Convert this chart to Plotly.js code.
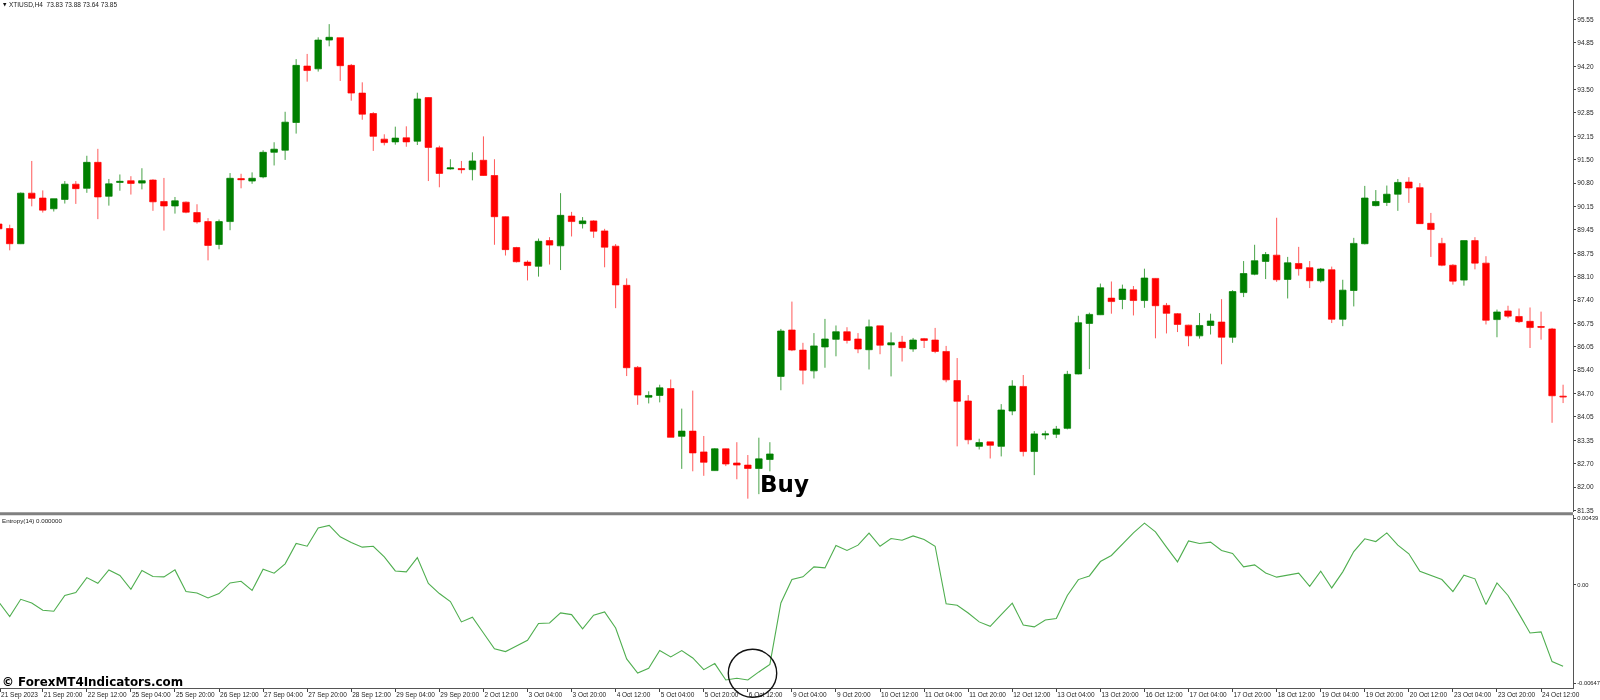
<!DOCTYPE html>
<html>
<head>
<meta charset="utf-8">
<script src="https://cdn.plot.ly/plotly-3.0.1.min.js"></script>
<style>html,body{margin:0;padding:0;background:#fff;overflow:hidden}#chart{width:1600px;height:700px;filter:blur(0.3px)}</style>
</head>
<body>
<div id="chart"></div>
<script>
// --- candle values (XTIUSD H4) ---
const openPrices = [89.62,89.49,89.05,90.51,90.37,90.06,90.33,90.77,90.65,91.40,90.42,90.82,90.87,90.80,90.89,90.27,90.14,90.25,89.95,89.69,89.03,89.69,90.93,90.86,90.98,91.69,91.75,92.55,94.18,94.10,94.93,95.00,94.20,93.40,92.81,92.07,91.99,92.11,92.01,93.27,91.82,91.21,91.22,91.19,91.46,91.02,89.83,88.94,88.52,88.40,89.14,88.99,89.85,89.63,89.71,89.42,88.98,87.85,85.48,84.62,84.67,84.87,83.49,83.64,83.04,82.50,83.13,82.72,82.66,82.56,82.82,85.22,86.56,85.98,85.38,86.07,86.29,86.51,86.30,85.99,86.68,86.13,86.21,86.01,86.31,86.27,85.94,85.10,84.51,83.20,83.33,83.20,84.22,84.93,83.05,83.53,83.55,83.72,85.29,86.75,87.00,87.48,87.44,87.72,87.41,88.05,87.27,87.03,86.70,86.39,86.69,86.79,86.35,87.64,88.17,88.54,88.72,88.02,88.48,88.36,87.98,88.30,86.87,87.70,89.05,90.15,90.24,90.48,90.83,90.67,89.64,89.06,88.43,88.00,89.14,88.49,86.86,87.11,86.95,86.81,86.66,86.59,84.65];
const highPrices = [89.63,89.60,90.53,91.44,90.59,90.35,90.86,90.86,91.59,91.79,90.92,91.05,91.00,91.23,90.91,90.95,90.40,90.27,90.19,89.79,89.75,91.09,91.07,91.11,91.75,91.98,92.86,94.38,94.53,95.01,95.39,95.00,94.24,93.71,92.85,92.21,92.43,92.44,93.41,93.28,91.88,91.49,91.44,91.69,92.15,91.49,89.84,88.96,88.57,89.20,89.24,90.51,89.97,89.82,89.73,89.48,89.04,88.05,85.52,84.79,84.98,85.13,84.29,84.81,83.50,83.15,83.14,83.32,82.95,83.45,83.32,86.59,87.38,86.19,86.47,86.88,86.69,86.64,86.47,86.86,86.68,86.49,86.39,86.33,86.33,86.62,86.10,85.75,84.68,83.42,83.33,84.42,85.11,85.26,83.64,83.65,83.79,85.38,86.97,87.06,87.90,87.96,87.87,87.83,88.33,88.06,87.34,87.05,86.71,87.05,87.03,87.45,87.71,88.55,89.02,88.81,89.80,88.67,88.96,88.55,88.35,88.39,88.01,89.22,90.72,90.60,90.73,90.92,90.97,90.80,89.94,89.22,88.46,89.14,89.24,88.69,87.15,87.26,87.18,87.21,87.09,86.62,84.98];
const lowPrices = [89.47,88.86,89.04,90.13,89.95,89.98,90.21,90.20,90.52,89.76,90.15,90.58,90.47,90.62,90.00,89.43,89.92,89.93,89.63,88.57,88.89,89.44,90.65,90.78,90.94,91.31,91.47,92.23,93.73,94.02,94.75,93.75,93.18,92.63,91.73,91.89,91.91,91.85,91.90,90.86,90.68,91.19,91.08,90.88,91.01,89.02,88.71,88.51,87.99,88.10,88.45,88.29,89.26,89.49,89.22,88.37,87.19,85.23,84.40,84.44,84.47,83.46,82.55,82.48,82.35,82.49,82.63,82.25,81.69,81.82,82.48,84.82,85.95,84.99,85.16,85.47,85.80,86.17,85.89,85.42,85.86,85.22,85.65,85.93,86.04,85.89,85.05,83.20,83.26,83.11,82.85,82.91,84.10,82.91,82.37,83.40,83.44,83.69,85.28,85.43,86.99,87.03,87.16,86.98,87.20,86.32,86.46,86.50,86.09,86.31,86.43,85.57,86.19,87.51,88.14,88.03,87.95,87.47,88.13,87.77,87.93,86.76,86.67,87.24,89.03,90.13,90.14,90.00,90.23,89.62,88.67,88.40,87.87,87.84,88.31,86.72,86.35,86.90,86.76,86.04,86.28,83.88,84.45];
const closePrices = [89.48,89.05,90.51,90.36,90.02,90.35,90.77,90.64,91.40,90.40,90.78,90.85,90.79,90.87,90.26,90.14,90.29,89.96,89.68,89.00,89.69,90.94,90.90,90.94,91.69,91.78,92.56,94.20,94.05,94.93,95.01,94.19,93.40,92.79,92.15,91.97,92.10,91.99,93.23,91.83,91.08,91.24,91.19,91.44,91.02,89.83,88.88,88.53,88.42,89.12,89.01,89.87,89.69,89.71,89.41,88.95,87.86,85.47,84.68,84.67,84.89,83.46,83.64,83.01,82.74,83.13,82.69,82.66,82.56,82.84,82.98,86.53,85.98,85.40,86.10,86.30,86.51,86.26,86.01,86.65,86.12,86.19,86.05,86.27,86.26,85.94,85.12,84.50,83.39,83.31,83.23,84.25,84.94,83.05,83.56,83.56,83.70,85.28,86.77,87.01,87.78,87.38,87.74,87.41,88.06,87.26,87.04,86.72,86.39,86.69,86.82,86.35,87.67,88.19,88.56,88.74,88.01,88.50,88.33,87.98,88.32,86.87,87.71,89.06,90.37,90.27,90.48,90.82,90.66,89.63,89.46,88.43,87.97,89.14,88.49,86.84,87.08,86.96,86.80,86.63,86.64,84.66,84.63];

// --- Entropy(14) indicator values ---
const entropyValues = [-0.00112,-0.00209,-0.00095,-0.00119,-0.00167,-0.00174,-0.00070,-0.00051,0.00048,0.00011,0.00099,0.00062,-0.00029,0.00095,0.00055,0.00053,0.00099,-0.00044,-0.00053,-0.00086,-0.00057,0.00013,0.00024,-0.00037,0.00103,0.00077,0.00139,0.00273,0.00255,0.00376,0.00392,0.00317,0.00279,0.00249,0.00255,0.00185,0.00092,0.00086,0.00180,0.00009,-0.00057,-0.00110,-0.00244,-0.00213,-0.00317,-0.00422,-0.00440,-0.00405,-0.00365,
-0.00255,-0.00251,-0.00185,-0.00196,-0.00290,-0.00200,-0.00178,-0.00284,-0.00488,-0.00581,-0.00550,-0.00433,-0.00475,-0.00433,-0.00482,-0.00559,-0.00519,-0.00627,-0.00616,-0.00627,-0.00574,-0.00524,-0.00119,0.00035,0.00053,0.00119,0.00112,0.00260,0.00227,0.00262,0.00341,0.00255,0.00306,0.00295,0.00323,0.00299,0.00255,-0.00125,-0.00134,-0.00185,-0.00244,-0.00273,-0.00196,-0.00121,-0.00264,-0.00277,-0.00231,-0.00222,
-0.00070,0.00035,0.00059,0.00154,0.00194,0.00271,0.00343,0.00407,0.00350,0.00249,0.00152,0.00290,0.00273,0.00282,0.00227,0.00207,0.00119,0.00132,0.00079,0.00051,0.00064,0.00077,-0.00009,0.00090,-0.00020,0.00086,0.00220,0.00304,0.00286,0.00343,0.00262,0.00205,0.00090,0.00062,0.00035,-0.00044,0.00064,0.00040,-0.00130,0.00013,-0.00070,-0.00191,-0.00317,-0.00310,-0.00506,-0.00537];

// --- axis labels ---
const priceTickValues = [95.525,94.85,94.175,93.50,92.825,92.15,91.475,90.80,90.125,89.45,88.775,88.10,87.425,86.75,86.075,85.40,84.725,84.05,83.375,82.70,82.025,81.35];
const priceTickLabels = ["95.55","94.85","94.20","93.50","92.85","92.15","91.50","90.80","90.15","89.45","88.75","88.10","87.40","86.75","86.05","85.40","84.70","84.05","83.35","82.70","82.00","81.35"];
const entropyTickValues = [0.00439,0,-0.00647];
const entropyTickLabels = ["0.00439","0.00","-0.00647"];
const timeTickBars = [0.12,4,8,12,16,20,24,28,32,36,40,44,48,52,56,60,64,68,72,76,80,84,88,92,96,100,104,108,112,116,120,124,128,132,136,140];
const timeTickLabels = ["21 Sep 2023","21 Sep 20:00","22 Sep 12:00","25 Sep 04:00","25 Sep 20:00","26 Sep 12:00","27 Sep 04:00","27 Sep 20:00","28 Sep 12:00","29 Sep 04:00","29 Sep 20:00","2 Oct 12:00","3 Oct 04:00","3 Oct 20:00","4 Oct 12:00","5 Oct 04:00","5 Oct 20:00","6 Oct 12:00","9 Oct 04:00","9 Oct 20:00","10 Oct 12:00","11 Oct 04:00","11 Oct 20:00","12 Oct 12:00","13 Oct 04:00","13 Oct 20:00","16 Oct 12:00","17 Oct 04:00","17 Oct 20:00","18 Oct 12:00","19 Oct 04:00","19 Oct 20:00","20 Oct 12:00","23 Oct 04:00","23 Oct 20:00","24 Oct 12:00"];

const barIndex = openPrices.map((_, i) => i);
const W = 1573, H = 688;              // plot area in pixels
const px = x => x / W, py = y => (H - y) / H;
const labelFont = {family: '"Liberation Sans", Arial, sans-serif', size: 6.5, color: '#222'};
const smallFont = {family: '"Liberation Sans", Arial, sans-serif', size: 5.8, color: '#222'};

const traces = [
  {type:'candlestick', x:barIndex, open:openPrices, high:highPrices, low:lowPrices, close:closePrices,
   xaxis:'x', yaxis:'y', whiskerwidth:0, hoverinfo:'skip',
   increasing:{line:{color:'rgba(0,128,0,0.72)',width:1}, fillcolor:'#008000'},
   decreasing:{line:{color:'rgba(255,0,0,0.65)',width:1}, fillcolor:'#ff0000'}},
  {type:'scatter', mode:'lines', x:barIndex, y:entropyValues, xaxis:'x', yaxis:'y2', hoverinfo:'skip',
   line:{color:'#4fae4f',width:1.1,shape:'linear'}}
];

const layout = {
  width:1600, height:700, autosize:false, showlegend:false, boxgap:0.15,
  paper_bgcolor:'#fff', plot_bgcolor:'#fff',
  margin:{l:0,r:27,t:0,b:12,pad:0},
  xaxis:{anchor:'y2', range:[0.118,142.9], rangeslider:{visible:false}, tickmode:'array',
         tickvals:timeTickBars, ticktext:timeTickLabels, ticks:'outside', ticklen:3, tickwidth:1, tickcolor:'#444',
         tickangle:0, ticklabelposition:'outside right', ticklabeloverflow:'allow', tickfont:labelFont,
         showline:true, linecolor:'#555', linewidth:1, showgrid:false, zeroline:false, fixedrange:true},
  yaxis:{domain:[(H-512)/H,1], anchor:'x', side:'right', range:[81.305,96.087], tickmode:'array',
         tickvals:priceTickValues, ticktext:priceTickLabels, ticks:'outside', ticklen:2, tickcolor:'#444', tickfont:labelFont,
         showline:true, linecolor:'#555', linewidth:1, showgrid:false, zeroline:false, fixedrange:true},
  yaxis2:{domain:[0,(H-515)/H], anchor:'x', side:'right', range:[-0.0068,0.00461], tickmode:'array',
         tickvals:entropyTickValues, ticktext:entropyTickLabels, ticks:'outside', ticklen:2, tickcolor:'#444', tickfont:smallFont,
         showline:true, linecolor:'#555', linewidth:1, showgrid:false, zeroline:false, fixedrange:true},
  shapes:[
    {type:'line', xref:'paper', yref:'paper', x0:0, x1:1, y0:py(513.7), y1:py(513.7), line:{color:'#808080',width:3}},
    {type:'circle', xref:'paper', yref:'paper', x0:px(728.3), x1:px(776.7), y0:py(697.3), y1:py(649.3), line:{color:'#111',width:1.4}}
  ],
  annotations:[
    {xref:'paper',yref:'paper',x:px(1),y:py(4.5),xanchor:'left',yanchor:'middle',showarrow:false,text:'▼',font:{family:'"DejaVu Sans"',size:4.5,color:'#111'}},
    {xref:'paper',yref:'paper',x:px(7),y:py(4.5),xanchor:'left',yanchor:'middle',showarrow:false,text:'XTIUSD,H4  73.83 73.88 73.64 73.85',font:labelFont},
    {xref:'paper',yref:'paper',x:px(0),y:py(520.7),xanchor:'left',yanchor:'middle',showarrow:false,text:'Entropy(14) 0.000000',font:{family:labelFont.family,size:6.2,color:'#222'}},
    {xref:'paper',yref:'paper',x:px(758),y:py(484),xanchor:'left',yanchor:'middle',showarrow:false,text:'Buy',font:{family:'"DejaVu Sans"',size:23,weight:700,color:'#000'}},
    {xref:'paper',yref:'paper',x:px(0),y:py(682),xanchor:'left',yanchor:'middle',showarrow:false,text:'© ForexMT4Indicators.com',font:{family:'"DejaVu Sans"',size:11.9,weight:700,color:'#000'}}
  ]
};

Plotly.newPlot('chart', traces, layout, {displayModeBar:false, staticPlot:true});
</script>
</body>
</html>
